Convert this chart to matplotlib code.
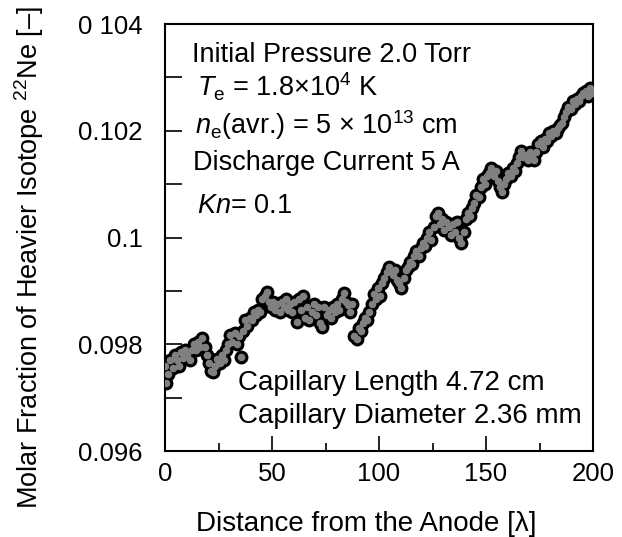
import matplotlib
matplotlib.use("Agg")
import matplotlib.pyplot as plt
from matplotlib.ticker import MultipleLocator, FixedLocator

plt.rcParams['font.family'] = ['Liberation Sans', 'DejaVu Sans']
plt.rcParams['mathtext.fontset'] = 'custom'
plt.rcParams['mathtext.rm'] = 'Liberation Sans'
plt.rcParams['mathtext.it'] = 'Liberation Sans:italic'

# distance from the anode [lambda]
dist = [
    0.0, 0.5, 1.5, 2.5, 3.5, 4.5, 5.5, 6.5, 7.5, 8.5, 9.5, 10.5, 11.5, 12.5, 13.5, 14.5,
    15.5, 16.5, 17.5, 18.5, 19.5, 20.5, 21.5, 22.5, 23.5, 24.5, 25.5, 26.5, 27.5, 28.5,
    29.5, 30.5, 31.5, 32.5, 33.5, 34.5, 35.5, 36.5, 37.5, 38.5, 39.5, 40.5, 41.5, 42.5,
    43.5, 44.5, 45.5, 46.5, 47.5, 48.5, 49.5, 50.5, 51.5, 52.5, 53.5, 54.5, 55.5, 56.5,
    57.5, 58.5, 59.5, 60.5, 61.5, 62.5, 63.5, 64.5, 65.5, 66.5, 67.5, 68.5, 69.5, 70.5,
    71.5, 72.5, 73.5, 74.5, 75.5, 76.5, 77.5, 78.5, 79.5, 80.5, 81.5, 82.5, 83.5, 84.5,
    85.5, 86.5, 87.5, 88.5, 89.5, 90.5, 91.5, 92.5, 93.5, 94.5, 95.5, 96.5, 97.5, 98.5,
    99.5, 100.5, 101.5, 102.5, 103.5, 104.5, 105.5, 106.5, 107.5, 108.5, 109.5, 110.5,
    111.5, 112.5, 113.5, 114.5, 115.5, 116.5, 117.5, 118.5, 119.5, 120.5, 121.5, 122.5,
    123.5, 124.5, 125.5, 126.5, 127.5, 128.5, 129.5, 130.5, 131.5, 132.5, 133.5, 134.5,
    135.5, 136.5, 137.5, 138.5, 139.5, 140.5, 141.5, 142.5, 143.5, 144.5, 145.5, 146.5,
    147.5, 148.5, 149.5, 150.5, 151.5, 152.5, 153.5, 154.5, 155.5, 156.5, 157.5, 158.5,
    159.5, 160.5, 161.5, 162.5, 163.5, 164.5, 165.5, 166.5, 167.5, 168.5, 169.5, 170.5,
    171.5, 172.5, 173.5, 174.5, 175.5, 176.5, 177.5, 178.5, 179.5, 180.5, 181.5, 182.5,
    183.5, 184.5, 185.5, 186.5, 187.5, 188.5, 189.5, 190.5, 191.5, 192.5, 193.5, 194.5,
    195.5, 196.5, 197.5, 198.5, 199.5,
]

# molar fraction of 22Ne
frac = [
    0.09760, 0.09728, 0.09745, 0.09770, 0.09755, 0.09780, 0.09770, 0.09760, 0.09785, 0.09775,
    0.09790, 0.09780, 0.09770, 0.09790, 0.09800, 0.09790, 0.09805, 0.09795, 0.09812, 0.09795,
    0.09780, 0.09765, 0.09750, 0.09748, 0.09760, 0.09772, 0.09765, 0.09780, 0.09770, 0.09790,
    0.09800, 0.09818, 0.09805, 0.09822, 0.09800, 0.09815, 0.09776, 0.09825, 0.09845, 0.09835,
    0.09850, 0.09845, 0.09860, 0.09855, 0.09865, 0.09860, 0.09885, 0.09890, 0.09898, 0.09880,
    0.09870, 0.09880, 0.09865, 0.09875, 0.09860, 0.09880, 0.09870, 0.09885, 0.09865, 0.09875,
    0.09860, 0.09880, 0.09842, 0.09885, 0.09865, 0.09890, 0.09850, 0.09870, 0.09845, 0.09860,
    0.09875, 0.09855, 0.09870, 0.09840, 0.09832, 0.09870, 0.09855, 0.09865, 0.09850, 0.09870,
    0.09860, 0.09875, 0.09865, 0.09885, 0.09896, 0.09880, 0.09873, 0.09860, 0.09875, 0.09815,
    0.09810, 0.09830, 0.09825, 0.09840, 0.09850, 0.09845, 0.09860, 0.09875, 0.09895, 0.09885,
    0.09905, 0.09890, 0.09915, 0.09925, 0.09935, 0.09945, 0.09935, 0.09930, 0.09940, 0.09920,
    0.09915, 0.09905, 0.09925, 0.09940, 0.09945, 0.09955, 0.09950, 0.09965, 0.09975, 0.09965,
    0.09980, 0.09990, 0.09985, 0.10000, 0.10010, 0.09995, 0.10020, 0.10040, 0.10045, 0.10025,
    0.10035, 0.10015, 0.10030, 0.10020, 0.10005, 0.10025, 0.10010, 0.10030, 0.10000, 0.09990,
    0.10010, 0.10035, 0.10045, 0.10040, 0.10055, 0.10065, 0.10080, 0.10075, 0.10095, 0.10110,
    0.10100, 0.10115, 0.10120, 0.10130, 0.10115, 0.10125, 0.10105, 0.10095, 0.10085, 0.10100,
    0.10110, 0.10120, 0.10115, 0.10130, 0.10125, 0.10140, 0.10150, 0.10162, 0.10150, 0.10155,
    0.10145, 0.10160, 0.10150, 0.10145, 0.10160, 0.10175, 0.10180, 0.10170, 0.10185, 0.10180,
    0.10195, 0.10190, 0.10200, 0.10195, 0.10205, 0.10210, 0.10215, 0.10225, 0.10235, 0.10245,
    0.10240, 0.10255, 0.10250, 0.10260, 0.10255, 0.10265, 0.10270, 0.10275, 0.10265, 0.10280,
    0.10270,
]

x_ticks = [0, 50, 100, 150, 200]
y_ticks = [0.096, 0.098, 0.100, 0.102, 0.104]
y_ticklabels = ["0.096", "0.098", "0.1", "0.102", "0 104"]

notes_top = [
    "Initial Pressure 2.0 Torr",
    r"$T_{\rm e}$ = 1.8$\times$10$^4$ K",
    r"$n_{\rm e}$(avr.) = 5 $\times$ 10$^{13}$ cm",
    "Discharge Current 5 A",
    r"$Kn$= 0.1",
]
notes_top_x = [12.6, 15, 14, 13, 15]
notes_top_y = [0.10329, 0.10264, 0.10193, 0.10127, 0.10046]
notes_bottom = ["Capillary Length 4.72 cm", "Capillary Diameter 2.36 mm"]
notes_bottom_y = [0.09714, 0.09652]

fig = plt.figure(figsize=(6.22, 5.37), dpi=100)
ax = fig.add_axes([0.2653, 0.1601, 0.6881, 0.7952])

ax.scatter(dist, frac, s=100, color="black", linewidths=0, zorder=2)
ax.scatter(dist, frac, s=30, color="#808080", linewidths=0, zorder=3)

ax.set_xlim(0, 200)
ax.set_ylim(0.096, 0.104)
ax.set_xticks(x_ticks)
ax.xaxis.set_minor_locator(MultipleLocator(25))
ax.set_yticks(y_ticks)
ax.set_yticklabels(y_ticklabels)
ax.yaxis.set_minor_locator(FixedLocator([0.097, 0.099, 0.101, 0.103]))

ax.tick_params(axis="both", which="both", direction="in", top=False, right=False,
               labelsize=18.5, width=1.2)
ax.tick_params(axis="x", which="major", length=11, pad=8)
ax.tick_params(axis="x", which="minor", length=6)
ax.tick_params(axis="y", which="major", length=12, pad=16)
ax.tick_params(axis="y", which="minor", length=12)
for sp in ax.spines.values():
    sp.set_linewidth(1.5)

fig.text(0.589, 1 - 531 / 537, "Distance from the Anode [λ]", fontsize=20,
         ha="center", va="baseline")
fig.text(29 / 622, 0.52, r"Molar Fraction of Heavier Isotope $^{22}$Ne [–]",
         fontsize=19.5, rotation=90, ha="center", va="center")

for txt, xx, yy in zip(notes_top, notes_top_x, notes_top_y):
    ax.text(xx, yy, txt, fontsize=19.5, va="baseline", ha="left")
for txt, yy in zip(notes_bottom, notes_bottom_y):
    ax.text(34, yy, txt, fontsize=20, va="baseline", ha="left")

fig.savefig("out.png", dpi=100)
